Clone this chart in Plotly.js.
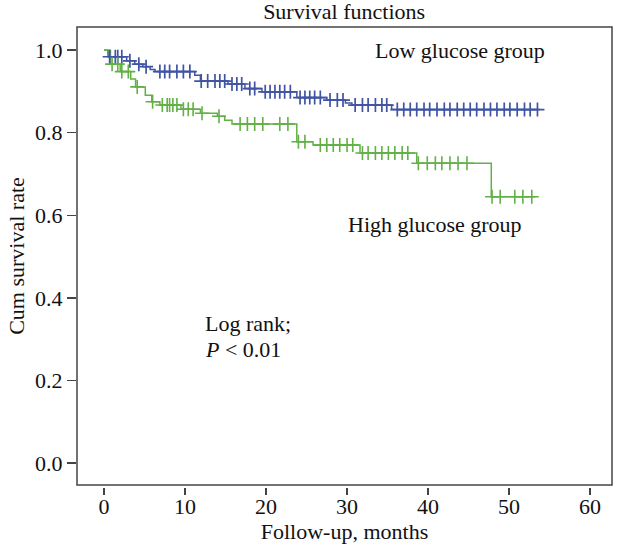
<!DOCTYPE html>
<html>
<head>
<meta charset="utf-8">
<script src="https://cdn.plot.ly/plotly-3.0.1.min.js"></script>
<style>html,body{margin:0;padding:0;background:#fff;}#chart{width:620px;height:548px;}</style>
</head>
<body>
<div id="chart"></div>
<script>
// Low glucose group: event times and survival after each step
const lowTimes = [0, 0.5, 2.8, 3.8, 4.8, 5.7, 6.3, 11.2, 11.9, 15.3, 17.4, 19.5, 23.8, 27.5, 29.8, 30.6, 35.5, 53.8];
const lowSurv  = [1.0, 0.984, 0.974, 0.966, 0.960, 0.953, 0.948, 0.939, 0.925, 0.918, 0.907, 0.899, 0.885, 0.879, 0.872, 0.867, 0.856, 0.856];
const lowCensor = [0.7, 1.4, 1.7, 2.2, 3.2, 4.3, 5.2, 6.9, 7.5, 8.1, 9.0, 9.8, 10.6, 12.0, 12.8, 13.7, 14.3, 14.9,
  15.8, 16.4, 17.0, 18.0, 18.6, 19.9, 20.5, 21.1, 21.7, 22.3, 23.0, 24.2, 24.8, 25.4, 26.0, 26.7,
  27.9, 28.8, 29.5, 31.0, 31.9, 32.6, 33.5, 34.3, 34.9, 36.2, 37.0, 37.8, 38.6, 39.5, 40.2, 41.1,
  42.0, 42.7, 43.6, 44.4, 45.2, 46.0, 46.9, 47.7, 48.5, 49.4, 50.1, 51.0, 51.9, 52.6, 53.5];

// High glucose group
const highTimes = [0, 0.8, 2.0, 3.3, 3.9, 5.1, 5.9, 6.9, 9.5, 11.9, 14.0, 14.9, 15.8, 23.8, 25.8, 31.6, 38.6, 47.8, 53.2];
const highSurv  = [1.0, 0.966, 0.948, 0.930, 0.911, 0.891, 0.875, 0.867, 0.857, 0.847, 0.840, 0.830, 0.821, 0.778, 0.770, 0.751, 0.726, 0.645, 0.645];
const highCensor = [1.0, 1.7, 2.2, 3.0, 4.1, 6.0, 7.2, 7.8, 8.1, 8.5, 9.0, 9.8, 10.4, 11.0, 12.1, 14.2,
  16.8, 17.7, 18.6, 19.6, 21.7, 22.7, 24.0, 24.8, 26.7, 27.5, 28.3, 29.1, 30.0, 30.7,
  31.9, 32.6, 33.5, 34.3, 35.1, 35.9, 36.8, 37.5, 38.8, 39.9, 40.9, 41.7, 42.7, 43.7, 44.8,
  47.9, 48.9, 50.7, 51.7, 52.8];

const xTicks = [0, 10, 20, 30, 40, 50, 60];
const yTicks = [0.0, 0.2, 0.4, 0.6, 0.8, 1.0];

const blue = '#4154a3';
const green = '#62b046';

function stepAt(times, surv, t) {
  let v = surv[0];
  for (let i = 0; i < times.length; i++) { if (times[i] <= t) v = surv[i]; }
  return v;
}

const font = 'Liberation Serif, Times New Roman, serif';
const fs = 22;

const traces = [
  {x: lowTimes, y: lowSurv, mode: 'lines', line: {shape: 'hv', color: blue, width: 1.5}, hoverinfo: 'skip'},
  {x: highTimes, y: highSurv, mode: 'lines', line: {shape: 'hv', color: green, width: 1.5}, hoverinfo: 'skip'},
  {x: lowCensor, y: lowCensor.map(t => stepAt(lowTimes, lowSurv, t)), mode: 'markers',
   marker: {symbol: 'cross-thin', size: 10, line: {color: blue, width: 1.7}}, hoverinfo: 'skip'},
  {x: highCensor, y: highCensor.map(t => stepAt(highTimes, highSurv, t)), mode: 'markers',
   marker: {symbol: 'cross-thin', size: 10, line: {color: green, width: 1.6}}, hoverinfo: 'skip'}
];

const layout = {
  width: 620, height: 548,
  margin: {l: 77, r: 8, t: 27, b: 61},
  showlegend: false,
  paper_bgcolor: '#fff', plot_bgcolor: '#fff',
  font: {family: font, size: fs, color: '#111'},
  title: {text: 'Survival functions', x: 0.555, xanchor: 'center', y: 0.98, yanchor: 'middle', font: {family: font, size: fs, color: '#111'}},
  xaxis: {
    range: [-3.33, 62.7], tickvals: xTicks, ticktext: xTicks.map(String),
    ticks: 'outside', ticklen: 7, tickwidth: 1.5, tickcolor: '#444',
    showline: false, showgrid: false, zeroline: false,
    anchor: 'free', position: 0,
    ticklabelstandoff: -7,
    tickfont: {family: font, size: fs, color: '#111'},
    title: {text: 'Follow-up, months', standoff: 0, font: {family: font, size: fs, color: '#111'}}
  },
  yaxis: {
    domain: [0.0043, 1], range: [-0.053, 1.056], tickvals: yTicks, ticktext: yTicks.map(v => v.toFixed(1)),
    ticks: 'outside', ticklen: 9, tickwidth: 1.5, tickcolor: '#444',
    showline: false, showgrid: false, zeroline: false,
    tickfont: {family: font, size: fs, color: '#111'},
    title: {text: 'Cum survival rate', standoff: 4, font: {family: font, size: fs, color: '#111'}}
  },
  shapes: [{type: 'rect', xref: 'x domain', yref: 'y domain', x0: 0, x1: 1, y0: 0, y1: 1,
    line: {color: '#444', width: 1.5}, fillcolor: 'rgba(0,0,0,0)'}],
  annotations: [
    {x: 44, y: 1.0, xref: 'x', yref: 'y', text: 'Low glucose group', showarrow: false, xanchor: 'center', yanchor: 'middle', font: {family: font, size: fs, color: '#111'}},
    {x: 40.9, y: 0.579, xref: 'x', yref: 'y', text: 'High glucose group', showarrow: false, xanchor: 'center', yanchor: 'middle', font: {family: font, size: fs, color: '#111'}},
    {x: 12.2, y: 0.337, xref: 'x', yref: 'y', text: 'Log rank;', showarrow: false, xanchor: 'left', yanchor: 'middle', font: {family: font, size: fs, color: '#111'}},
    {x: 12.2, y: 0.276, xref: 'x', yref: 'y', text: '<i>P</i> < 0.01', showarrow: false, xanchor: 'left', yanchor: 'middle', font: {family: font, size: fs, color: '#111'}}
  ]
};

Plotly.newPlot('chart', traces, layout, {displayModeBar: false, staticPlot: true});
</script>
</body>
</html>
